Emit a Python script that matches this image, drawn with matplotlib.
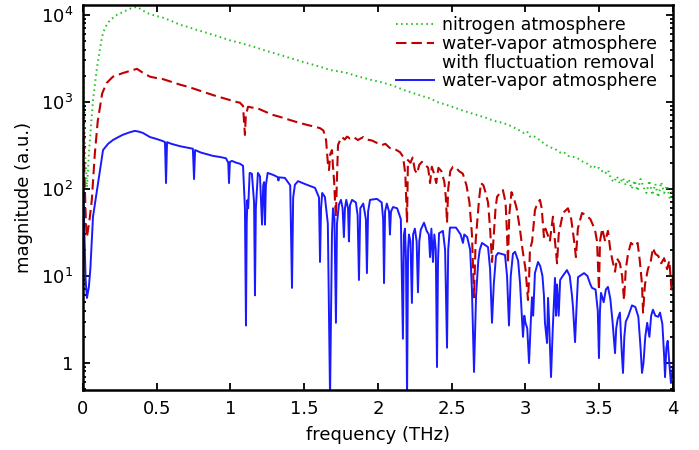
import matplotlib
matplotlib.use('agg')
import matplotlib.pyplot as plt
from matplotlib.lines import Line2D
from matplotlib.ticker import FixedLocator, FixedFormatter, LogLocator, NullFormatter

# spectra in nitrogen and in water vapour (THz, a.u.)
nitrogen_freq = [0.000, 0.008, 0.015, 0.027, 0.040, 0.047, 0.068, 0.095, 0.129, 0.150,
                 0.183, 0.230, 0.271, 0.320, 0.366, 0.400, 0.434, 0.490, 0.542, 0.600,
                 0.658, 0.720, 0.773, 0.830, 0.881, 0.940, 0.997, 1.060, 1.112, 1.170,
                 1.220, 1.280, 1.336, 1.390, 1.451, 1.500, 1.559, 1.620, 1.675, 1.730,
                 1.790, 1.850, 1.898, 1.960, 2.014, 2.070, 2.129, 2.169, 2.230, 2.290,
                 2.353, 2.400, 2.460, 2.520, 2.570, 2.624, 2.680, 2.730, 2.780, 2.847,
                 2.900, 2.950, 2.990, 3.010, 3.030, 3.050, 3.078, 3.110, 3.140, 3.170,
                 3.200, 3.214, 3.240, 3.260, 3.290, 3.320, 3.349, 3.370, 3.390, 3.420,
                 3.440, 3.460, 3.480, 3.500, 3.520, 3.540, 3.560, 3.580, 3.600, 3.620,
                 3.640, 3.660, 3.680, 3.700, 3.720, 3.740, 3.760, 3.780, 3.800, 3.820,
                 3.840, 3.860, 3.880, 3.900, 3.920, 3.940, 3.960, 3.980, 4.000]
nitrogen_mag = [5000, 1000, 250, 105, 250, 365, 1050, 2500, 5600, 7200,
                8700, 10000, 10800, 11800, 12400, 11400, 10500, 9800, 9300, 8500,
                7700, 7200, 6700, 6300, 5900, 5500, 5100, 4800, 4530, 4250,
                3970, 3700, 3470, 3250, 3030, 2850, 2680, 2500, 2330, 2250,
                2150, 2000, 1900, 1780, 1700, 1600, 1480, 1380, 1280, 1180,
                1100, 1000, 930, 860, 800, 750, 700, 660, 610, 575,
                530, 480, 440, 460, 400, 410, 385, 350, 320, 300,
                290, 275, 260, 265, 240, 235, 228, 215, 205, 195,
                180, 188, 170, 175, 160, 150, 165, 130, 120, 140,
                115, 135, 110, 130, 100, 125, 95, 130, 105, 90,
                125, 85, 115, 80, 120, 90, 110, 75, 100]

fluct_freq = [0.000, 0.010, 0.020, 0.027, 0.045, 0.060, 0.080, 0.100, 0.130, 0.160,
              0.203, 0.271, 0.330, 0.366, 0.400, 0.454, 0.500, 0.542, 0.600, 0.658,
              0.720, 0.773, 0.830, 0.881, 0.940, 0.997, 1.040, 1.064, 1.085, 1.092,
              1.098, 1.104, 1.119, 1.150, 1.180, 1.230, 1.288, 1.340, 1.403, 1.460,
              1.519, 1.570, 1.607, 1.630, 1.648, 1.660, 1.668, 1.676, 1.688, 1.695,
              1.703, 1.709, 1.715, 1.721, 1.729, 1.742, 1.756, 1.775, 1.790, 1.810,
              1.835, 1.864, 1.900, 1.925, 1.960, 1.990, 2.027, 2.050, 2.081, 2.110,
              2.149, 2.170, 2.185, 2.197, 2.203, 2.220, 2.235, 2.250, 2.265, 2.280,
              2.298, 2.320, 2.340, 2.353, 2.365, 2.380, 2.395, 2.410, 2.430, 2.450,
              2.460, 2.468, 2.476, 2.490, 2.508, 2.530, 2.550, 2.575, 2.600, 2.620,
              2.637, 2.651, 2.662, 2.672, 2.685, 2.698, 2.715, 2.730, 2.746, 2.760,
              2.773, 2.785, 2.797, 2.807, 2.830, 2.847, 2.865, 2.875, 2.881, 2.890,
              2.905, 2.920, 2.940, 2.963, 2.980, 3.000, 3.017, 3.025, 3.030, 3.045,
              3.064, 3.080, 3.098, 3.110, 3.125, 3.135, 3.150, 3.165, 3.186, 3.200,
              3.214, 3.225, 3.240, 3.254, 3.288, 3.310, 3.330, 3.342, 3.355, 3.383,
              3.410, 3.440, 3.471, 3.485, 3.498, 3.505, 3.520, 3.540, 3.559, 3.575,
              3.590, 3.607, 3.620, 3.640, 3.655, 3.668, 3.680, 3.695, 3.715, 3.740,
              3.760, 3.775, 3.790, 3.797, 3.810, 3.830, 3.850, 3.864, 3.880, 3.900,
              3.920, 3.940, 3.960, 3.975, 3.990, 4.000]
fluct_mag = [700, 150, 40, 28, 45, 75, 250, 600, 1250, 1650,
             1950, 2150, 2300, 2400, 2200, 1950, 1880, 1830, 1700, 1580,
             1480, 1380, 1280, 1200, 1120, 1050, 1000, 980, 900, 600,
             418, 700, 880, 860, 850, 780, 710, 670, 620, 580,
             545, 520, 500, 470, 365, 200, 165, 250, 280, 180,
             120, 70, 48, 120, 320, 360, 395, 370, 400, 380,
             395, 365, 395, 370, 360, 340, 320, 330, 295, 290,
             265, 235, 150, 41, 215, 200, 230, 165, 150, 190,
             205, 190, 175, 117, 180, 150, 117, 175, 160, 120,
             80, 41, 100, 160, 180, 175, 160, 150, 110, 70,
             30, 5.7, 25, 40, 75, 117, 110, 90, 70, 35,
             14.5, 30, 60, 81, 92, 97, 70, 30, 14, 50,
             92, 80, 60, 34, 20, 12, 5.3, 10, 20, 25,
             57, 68, 75, 60, 28, 35, 30, 25, 48, 25,
             14, 30, 40, 53, 60, 45, 25, 16.5, 35, 53,
             50, 45, 34, 25, 6.9, 25, 35, 25, 33, 20,
             15, 11.2, 16, 14, 10, 5.3, 12, 18, 24, 22,
             24, 15, 8, 3.8, 8, 12, 15, 21, 18, 17,
             14, 16, 12, 15, 7, 10]

vapor_freq = [0.000, 0.008, 0.018, 0.027, 0.040, 0.050, 0.068, 0.095, 0.136, 0.170,
              0.203, 0.240, 0.271, 0.320, 0.353, 0.380, 0.407, 0.454, 0.500, 0.542,
              0.556, 0.563, 0.570, 0.600, 0.658, 0.700, 0.745, 0.753, 0.760, 0.800,
              0.881, 0.930, 0.970, 0.985, 0.990, 0.996, 1.010, 1.040, 1.064, 1.085,
              1.098, 1.105, 1.110, 1.114, 1.120, 1.130, 1.145, 1.160, 1.166, 1.172,
              1.186, 1.200, 1.214, 1.222, 1.228, 1.234, 1.240, 1.252, 1.290, 1.320,
              1.325, 1.330, 1.369, 1.405, 1.417, 1.425, 1.437, 1.458, 1.505, 1.573,
              1.600, 1.607, 1.614, 1.622, 1.640, 1.660, 1.675, 1.688, 1.695, 1.705,
              1.715, 1.722, 1.735, 1.749, 1.760, 1.769, 1.776, 1.785, 1.797, 1.803,
              1.810, 1.824, 1.850, 1.862, 1.871, 1.880, 1.900, 1.918, 1.925, 1.933,
              1.946, 1.993, 2.025, 2.035, 2.041, 2.048, 2.060, 2.075, 2.081, 2.088,
              2.102, 2.130, 2.155, 2.169, 2.176, 2.183, 2.190, 2.197, 2.204, 2.210,
              2.220, 2.230, 2.238, 2.250, 2.262, 2.271, 2.280, 2.290, 2.312, 2.330,
              2.345, 2.353, 2.362, 2.373, 2.382, 2.392, 2.400, 2.407, 2.414, 2.440,
              2.455, 2.468, 2.476, 2.488, 2.529, 2.560, 2.576, 2.585, 2.605, 2.625,
              2.637, 2.651, 2.665, 2.680, 2.690, 2.705, 2.746, 2.760, 2.773, 2.785,
              2.800, 2.814, 2.861, 2.875, 2.888, 2.900, 2.915, 2.929, 2.950, 2.963,
              2.975, 2.983, 2.992, 3.000, 3.012, 3.024, 3.036, 3.044, 3.052, 3.064,
              3.085, 3.100, 3.115, 3.125, 3.132, 3.146, 3.153, 3.160, 3.173, 3.185,
              3.200, 3.207, 3.214, 3.225, 3.235, 3.247, 3.281, 3.300, 3.315, 3.322,
              3.336, 3.345, 3.356, 3.397, 3.420, 3.440, 3.451, 3.475, 3.490, 3.498,
              3.505, 3.512, 3.530, 3.545, 3.559, 3.575, 3.590, 3.607, 3.615, 3.625,
              3.640, 3.651, 3.661, 3.670, 3.680, 3.695, 3.722, 3.745, 3.765, 3.780,
              3.790, 3.800, 3.812, 3.825, 3.840, 3.852, 3.864, 3.880, 3.900, 3.912,
              3.928, 3.940, 3.946, 3.955, 3.964, 3.975, 3.986, 4.000]
vapor_mag = [120, 40, 9, 5.6, 7.5, 12, 48, 97, 280, 330,
             365, 395, 420, 450, 465, 455, 440, 395, 375, 355,
             345, 117, 345, 330, 310, 300, 290, 130, 280, 262,
             240, 233, 225, 200, 117, 205, 210, 200, 195, 185,
             60, 2.7, 40, 74, 60, 153, 150, 70, 6.0, 60,
             153, 140, 39, 110, 120, 39, 110, 153, 145, 137,
             125, 136, 134, 110, 7.3, 80, 112, 123, 114, 103,
             80, 14.5, 60, 90, 81, 40, 0.4, 30, 60, 45,
             2.9, 40, 66, 75, 60, 28, 60, 75, 60, 25,
             65, 75, 70, 50, 9.0, 60, 68, 45, 10.8, 55,
             75, 77, 70, 45, 8.3, 55, 68, 55, 30, 55,
             62, 60, 45, 1.9, 30, 35, 15, 0.4, 20, 30,
             25, 4.9, 30, 35, 25, 6.5, 25, 34, 41, 33,
             30, 16.5, 35, 14.5, 30, 20, 0.9, 15, 31, 33,
             20, 1.5, 20, 36, 36, 30, 24, 30, 28, 20,
             6.9, 0.79, 6, 15, 20, 24, 21.5, 12, 2.9, 8,
             17, 18.4, 17.5, 10, 2.7, 10, 18, 19, 15, 8.3,
             3.5, 2.0, 3.5, 2.9, 2.5, 1.0, 3, 5.7, 3.5, 10.8,
             14.5, 13, 10, 6, 2.9, 1.7, 5.6, 3, 0.69, 2.5,
             9.5, 3.5, 8, 3.5, 9, 9.7, 11.7, 10, 6, 4.4,
             1.74, 4, 9.7, 10.8, 10, 8, 7.3, 7, 4, 1.14,
             4, 6.4, 5, 7, 7.5, 5.5, 3, 1.3, 2.5, 3.2,
             3.8, 1.5, 0.77, 2, 3, 3.4, 4.6, 4.4, 3.4, 1.5,
             0.77, 1.0, 2, 2.9, 2, 3.5, 4.1, 3.5, 3.4, 3.8,
             2.8, 1.2, 0.69, 1.5, 1.8, 1.0, 0.59, 0.9]

xticks = [0, 0.5, 1, 1.5, 2, 2.5, 3, 3.5, 4]
xtick_labels = ['0', '0.5', '1', '1.5', '2', '2.5', '3', '3.5', '4']
yticks = [1, 10, 100, 1000, 10000]
ytick_labels = ['1', '$10^1$', '$10^2$', '$10^3$', '$10^4$']

plt.rcParams['font.family'] = ['DejaVu Sans']
plt.rcParams['mathtext.fontset'] = 'dejavusans'

fig = plt.figure(figsize=(6.99, 4.5), dpi=100)
ax = fig.add_axes([0.1187, 0.1333, 0.8441, 0.8556])

green = '#1fc21f'
red = '#bf0000'
blue = '#1a1aff'
green_ls = (0, (0.8, 1.8))
red_ls = (0, (5, 2.4))

ax.plot(nitrogen_freq, nitrogen_mag, color=green, lw=1.4, ls=green_ls,
        dash_capstyle='butt')
ax.plot(fluct_freq, fluct_mag, color=red, lw=1.5, ls=red_ls)
ax.plot(vapor_freq, vapor_mag, color=blue, lw=1.4)

ax.set_yscale('log')
ax.set_xlim(0, 4)
ax.set_ylim(0.49, 13000)

ax.xaxis.set_major_locator(FixedLocator(xticks))
ax.xaxis.set_major_formatter(FixedFormatter(xtick_labels))
ax.yaxis.set_major_locator(FixedLocator(yticks))
ax.yaxis.set_major_formatter(FixedFormatter(ytick_labels))
ax.yaxis.set_minor_locator(LogLocator(base=10, subs=range(2, 10), numticks=20))
ax.yaxis.set_minor_formatter(NullFormatter())

ax.tick_params(which='both', direction='in', top=True, right=True, width=1.3,
               labelsize=13, colors='black')
ax.tick_params(which='major', length=5, pad=7)
ax.tick_params(which='minor', length=2.5)
for s in ax.spines.values():
    s.set_linewidth(1.8)

ax.set_xlabel('frequency (THz)', fontsize=13, labelpad=6)
ax.set_ylabel('magnitude (a.u.)', fontsize=13, labelpad=6)

# third entry is only the second line of the red label
handles = [Line2D([], [], color=green, lw=1.4, ls=green_ls),
           Line2D([], [], color=red, lw=1.5, ls=red_ls),
           Line2D([], [], color='none'),
           Line2D([], [], color=blue, lw=1.4)]
labels = ['nitrogen atmosphere', 'water-vapor atmosphere',
          'with fluctuation removal', 'water-vapor atmosphere']
ax.legend(handles, labels, loc='upper right', frameon=False, fontsize=12.5,
          handlelength=2.2, handletextpad=0.45, labelspacing=0.05,
          borderaxespad=0.0, bbox_to_anchor=(0.985, 0.99))

fig.savefig('out.png', dpi=100)
